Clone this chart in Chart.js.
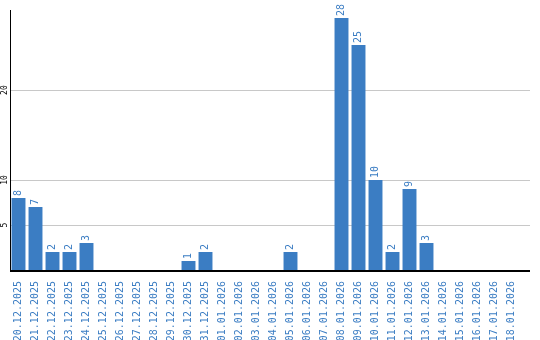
<!DOCTYPE html>
<html>
<head>
<meta charset="utf-8">
<script src="https://cdn.jsdelivr.net/npm/chart.js@4"></script>
<style>
  html, body { margin: 0; padding: 0; background: #fff; }
  #wrap { width: 540px; height: 340px; }
</style>
</head>
<body>
<div id="wrap"><canvas id="chart" width="540" height="340"></canvas></div>
<script>
const dates = [
    '20.12.2025', '21.12.2025', '22.12.2025', '23.12.2025', '24.12.2025', '25.12.2025',
    '26.12.2025', '27.12.2025', '28.12.2025', '29.12.2025', '30.12.2025', '31.12.2025',
    '01.01.2026', '02.01.2026', '03.01.2026', '04.01.2026', '05.01.2026', '06.01.2026',
    '07.01.2026', '08.01.2026', '09.01.2026', '10.01.2026', '11.01.2026', '12.01.2026',
    '13.01.2026', '14.01.2026', '15.01.2026', '16.01.2026', '17.01.2026', '18.01.2026'
];
const counts = [8, 7, 2, 2, 3, 0, 0, 0, 0, 0, 1, 2, 0, 0, 0, 0, 2, 0, 0, 28, 25, 10, 2, 9, 3, 0, 0, 0, 0, 0];
const yTicks = [5, 10, 20];

const blue = '#3b7dc3';
const mono = "'DejaVu Sans Mono', monospace";
const extraRight = 10; // grid and axis run a bit past the last category

const labelPlugin = {
    id: 'labels',
    beforeDatasetsDraw(chart) {
        // extend grid lines past the category area
        const ctx = chart.ctx;
        const area = chart.chartArea;
        const y = chart.scales.y;
        ctx.save();
        ctx.lineWidth = 1;
        ctx.strokeStyle = '#c8c8c8';
        yTicks.forEach(v => {
            const py = Math.round(y.getPixelForValue(v)) + 0.5;
            ctx.beginPath();
            ctx.moveTo(area.right, py);
            ctx.lineTo(area.right + extraRight, py);
            ctx.stroke();
        });
        ctx.restore();
    },
    afterDatasetsDraw(chart) {
        const ctx = chart.ctx;
        const area = chart.chartArea;
        const meta = chart.getDatasetMeta(0);
        ctx.save();
        // x axis line
        ctx.fillStyle = '#000';
        ctx.fillRect(area.left, Math.round(area.bottom), area.right + extraRight - area.left, 2);

        ctx.font = '10px ' + mono;
        ctx.fillStyle = blue;
        ctx.textAlign = 'left';
        ctx.textBaseline = 'middle';
        meta.data.forEach((bar, i) => {
            if (!counts[i]) return;
            ctx.save();
            ctx.translate(bar.x, bar.y - 2);
            ctx.rotate(-Math.PI / 2);
            ctx.fillText(String(counts[i]), 0, 0);
            ctx.restore();
        });
        const y = chart.scales.y;
        ctx.font = '8px ' + mono;
        ctx.fillStyle = '#000';
        ctx.textAlign = 'center';
        yTicks.forEach(v => {
            ctx.save();
            ctx.translate(5, y.getPixelForValue(v));
            ctx.rotate(-Math.PI / 2);
            ctx.fillText(String(v), 0, 0);
            ctx.restore();
        });
        ctx.restore();
    }
};

new Chart(document.getElementById('chart').getContext('2d'), {
    type: 'bar',
    data: {
        labels: dates,
        datasets: [{
            data: counts,
            backgroundColor: blue,
            borderWidth: 0,
            barPercentage: 0.82,
            categoryPercentage: 1
        }]
    },
    options: {
        responsive: false,
        animation: false,
        layout: { padding: { top: 10, right: 10 + extraRight, left: 0, bottom: 0 } },
        plugins: { legend: { display: false }, tooltip: { enabled: false } },
        scales: {
            x: {
                grid: { display: false },
                border: { display: false },
                ticks: {
                    color: blue,
                    font: { family: mono, size: 10 },
                    minRotation: 90,
                    maxRotation: 90,
                    autoSkip: false,
                    padding: 3
                },
                afterFit(scale) { scale.height = 70; }
            },
            y: {
                min: 0,
                max: 28.9,
                grid: { color: '#c8c8c8', drawTicks: false },
                border: { color: '#000', width: 1 },
                ticks: { display: false },
                afterBuildTicks(scale) { scale.ticks = yTicks.map(v => ({ value: v })); },
                afterFit(scale) { scale.width = 10; }
            }
        }
    },
    plugins: [labelPlugin]
});
</script>
</body>
</html>
